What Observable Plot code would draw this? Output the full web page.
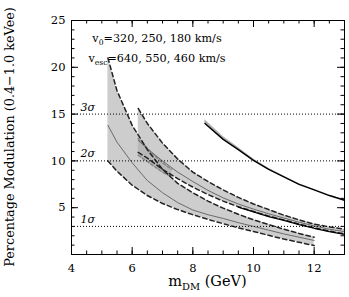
<!DOCTYPE html>
<html><head><meta charset="utf-8">
<script src="https://cdn.jsdelivr.net/npm/d3@7"></script>
<script src="https://cdn.jsdelivr.net/npm/@observablehq/plot@0.6"></script>
<style>body{margin:0;background:#fff}#chart{width:349px;height:297px}</style>
</head><body><div id="chart"></div>
<script>
// ---- data ----
// v0 = 320 km/s band
const bandA_x  = [5.2, 5.5, 6, 6.5, 7, 7.5, 8, 8.5, 9, 9.5, 10, 10.5, 11, 11.5, 12];
const bandA_hi = [21.0, 17.5, 13.8, 11.2, 9.1, 7.6, 6.6, 5.7, 4.95, 4.3, 3.7, 3.2, 2.7, 2.25, 1.85];
const bandA_mid= [13.8, 12.0, 9.8, 7.9, 6.6, 5.55, 4.75, 4.25, 3.85, 3.4, 3.0, 2.6, 2.2, 1.85, 1.5];
const bandA_lo = [10.0, 8.9, 7.4, 6.3, 5.45, 4.8, 4.25, 3.75, 3.3, 2.85, 2.45, 2.05, 1.65, 1.3, 0.96];
// v0 = 250 km/s band
const bandB_x  = [6.2, 6.5, 7, 7.5, 8, 8.5, 9, 9.5, 10, 10.5, 11, 11.5, 12, 12.5, 13];
const bandB_hi = [15.6, 14.0, 11.9, 10.2, 8.8, 7.8, 6.9, 6.1, 5.4, 4.8, 4.2, 3.7, 3.25, 2.95, 2.7];
const bandB_mid= [12.2, 11.3, 10.0, 8.8, 7.8, 6.85, 6.05, 5.4, 4.85, 4.35, 3.9, 3.45, 3.05, 2.7, 2.45];
const bandB_lo = [10.9, 10.3, 9.1, 8.1, 7.2, 6.4, 5.7, 5.1, 4.6, 4.1, 3.7, 3.25, 2.85, 2.5, 2.2];
// narrow inner band inside the v0 = 250 band
const inner_x  = [6.2, 6.6, 7.0, 7.3];
const inner_hi = [12.4, 11.0, 9.8, 9.1];
const inner_lo = [10.6, 9.7, 8.8, 8.3];
// black solid line along the lower edge of the v0 = 250 band
const edge_x   = [9.5, 10, 10.5, 11, 11.5, 12, 12.5, 13];
const edge_y   = [5.05, 4.55, 4.05, 3.65, 3.2, 2.8, 2.45, 2.15];
// v0 = 180 km/s band
const bandC_x  = [8.4, 9, 9.5, 10, 10.5, 11, 11.5, 12, 12.5, 13];
const bandC_mid= [14.0, 12.3, 11.2, 10.05, 9.1, 8.3, 7.5, 6.9, 6.3, 5.8];
const bandC_up = [0.4, 0.3, 0.22, 0.16, 0.12, 0.1, 0.08, 0.07, 0.06, 0.05];
// significance lines
const sigmaLevels = [3, 10, 15];
const sigmaLabels = ["1σ", "2σ", "3σ"];
// axes
const xDomain = [4, 13], yDomain = [0, 25];
const xTickLabels = [4, 6, 8, 10, 12];
const xMinor = d3.range(4.5, 13, 0.5);
const yTickLabels = [5, 10, 15, 20, 25];
const yMajor = [0, 5, 10, 15, 20, 25];
const yMinor = d3.range(1, 25, 1);
const legendLines = [["v", "0", "=320, 250, 180 km/s"], ["v", "esc", "=640, 550, 460 km/s"]];
const xTitle = ["m", "DM", " (GeV)"];
const yTitle = "Percentage Modulation (0.4\u22121.0 keVee)";

// ---- tables ----
const bandA = bandA_x.map((x, i) => ({x, lo: bandA_lo[i], mid: bandA_mid[i], hi: bandA_hi[i]}));
const bandB = bandB_x.map((x, i) => ({x, lo: bandB_lo[i], mid: bandB_mid[i], hi: bandB_hi[i]}));
const inner = inner_x.map((x, i) => ({x, lo: inner_lo[i], hi: inner_hi[i]}));
const edge = edge_x.map((x, i) => ({x, y: edge_y[i]}));
const bandC = bandC_x.map((x, i) => ({x, lo: bandC_mid[i] - 0.05, mid: bandC_mid[i], hi: bandC_mid[i] + bandC_up[i]}));
const sigmas = sigmaLevels.map((v, i) => ({v, label: sigmaLabels[i]}));

const W = 349, H = 297, mL = 71, mR = 5, mT = 20, mB = 43;
const FH = H - mT - mB, FW = W - mL - mR;
const major = 7, minor = 3.5;
const FILL = "#cdcdcd", DASH = "4.5,3";

const chart = Plot.plot({
  width: W, height: H,
  marginLeft: mL, marginRight: mR, marginTop: mT, marginBottom: mB,
  style: {fontFamily: "DejaVu Serif", fontSize: "10.5px", color: "#000", background: "#fff"},
  x: {domain: xDomain},
  y: {domain: yDomain},
  marks: [
    Plot.areaY(bandA, {x: "x", y1: "lo", y2: "hi", fill: FILL}),
    Plot.areaY(bandB, {x: "x", y1: "lo", y2: "hi", fill: FILL}),
    Plot.areaY(inner, {x: "x", y1: "lo", y2: "hi", fill: "#b8b8b8"}),
    Plot.areaY(bandC, {x: "x", y1: "lo", y2: "hi", fill: "#b0b0b0"}),
    Plot.line(inner, {x: "x", y: "hi", stroke: "#888", strokeDasharray: "3,2"}),
    Plot.line(inner, {x: "x", y: "lo", stroke: "#888", strokeDasharray: "3,2"}),
    Plot.line(bandA, {x: "x", y: "mid", stroke: "#6a6a6a", strokeWidth: 1}),
    Plot.line(bandB, {x: "x", y: "mid", stroke: "#6a6a6a", strokeWidth: 1}),
    Plot.line(bandA, {x: "x", y: "hi", stroke: "#222", strokeDasharray: DASH}),
    Plot.line(bandA, {x: "x", y: "lo", stroke: "#222", strokeDasharray: DASH}),
    Plot.line(bandB, {x: "x", y: "hi", stroke: "#222", strokeDasharray: DASH}),
    Plot.line(bandB, {x: "x", y: "lo", stroke: "#222", strokeDasharray: DASH}),
    Plot.line(edge, {x: "x", y: "y", stroke: "#000", strokeWidth: 1.2}),
    Plot.line(bandC, {x: "x", y: "mid", stroke: "#000", strokeWidth: 1.4}),
    Plot.ruleY(sigmas, {y: "v", stroke: "#000", strokeDasharray: "1,2", strokeWidth: 1}),
    Plot.text(sigmas, {y: "v", text: "label", frameAnchor: "left", dx: 9, dy: -7, textAnchor: "start", fontStyle: "italic", fontSize: 11}),
    // ticks, drawn inward on all four sides
    Plot.ruleX(xTickLabels, {x: d => d, insetTop: FH - major, stroke: "#000"}),
    Plot.ruleX(xTickLabels, {x: d => d, insetBottom: FH - major, stroke: "#000"}),
    Plot.ruleX(xMinor, {x: d => d, insetTop: FH - minor, stroke: "#000"}),
    Plot.ruleX(xMinor, {x: d => d, insetBottom: FH - minor, stroke: "#000"}),
    Plot.ruleY(yMajor, {y: d => d, insetRight: FW - major, stroke: "#000"}),
    Plot.ruleY(yMajor, {y: d => d, insetLeft: FW - major, stroke: "#000"}),
    Plot.ruleY(yMinor, {y: d => d, insetRight: FW - minor, stroke: "#000"}),
    Plot.ruleY(yMinor, {y: d => d, insetLeft: FW - minor, stroke: "#000"}),
    Plot.frame({stroke: "#000"}),
    Plot.axisX(xTickLabels, {tickSize: 0, tickPadding: 9, label: null, fontSize: 11.5}),
    Plot.axisY(yTickLabels, {tickSize: 0, tickPadding: 6, label: null, fontSize: 11.5})
  ]
});
document.getElementById("chart").appendChild(chart);

// ---- titles and legend with subscripts ----
const svg = d3.select(chart);
function subText(sel, parts, size) {
  sel.append("tspan").text(parts[0]);
  sel.append("tspan").attr("font-size", size * 0.68).attr("dy", size * 0.3).text(parts[1]);
  sel.append("tspan").attr("dy", -size * 0.3).text(parts[2]);
}
legendLines.forEach((p, i) => {
  const t = svg.append("text").attr("x", 157).attr("y", 42 + i * 20)
    .attr("font-family", "DejaVu Serif").attr("font-size", 11.2).attr("fill", "#000");
  subText(t, p, 11.2);
});
const xt = svg.append("text").attr("x", mL + FW / 2).attr("y", 286).attr("text-anchor", "middle")
  .attr("font-family", "DejaVu Serif").attr("font-size", 14.5).attr("fill", "#000");
subText(xt, xTitle, 14.5);
svg.append("text").attr("transform", `translate(14,${mT + FH / 2}) rotate(-90)`)
  .attr("text-anchor", "middle").attr("font-family", "DejaVu Serif").attr("font-size", 12.8)
  .attr("fill", "#000").text(yTitle);
</script>
</body></html>
